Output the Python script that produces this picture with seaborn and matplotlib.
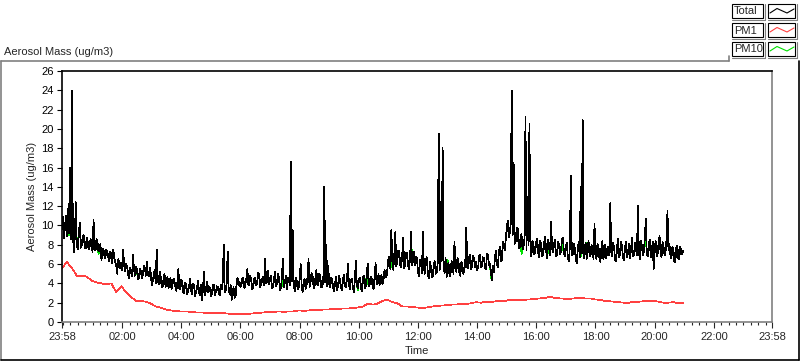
import numpy as np
import matplotlib
matplotlib.use("Agg")
import matplotlib.pyplot as plt
import seaborn as sns
from matplotlib.lines import Line2D
from matplotlib.patches import Rectangle

W, H = 800, 361

# Total aerosol mass, 2 minute readings from 23:58 (one row per hour)
total = [
    9.6, 10.9, 8.7, 9.8, 11.0, 8.9, 11.7, 9.2, 16.0, 8.6, 24.0, 9.4, 7.2, 8.8, 12.4,
    8.1, 7.5, 9.1, 10.3, 7.7, 8.0, 8.9, 9.0, 7.8, 7.6, 8.7, 8.4, 7.5, 7.8, 8.6,
    7.9, 7.2, 10.6, 7.7, 7.4, 8.6, 8.3, 7.3, 7.6, 8.1, 6.4, 7.4, 7.6, 6.8, 6.6,
    7.5, 7.2, 6.7, 6.3, 7.3, 6.9, 6.1, 7.5, 6.6, 6.2, 5.8, 5.0, 6.5, 6.3, 5.6,
    6.1, 5.4, 7.5, 5.9, 5.3, 6.0, 5.8, 5.0, 4.5, 5.6, 5.2, 4.7, 7.0, 5.5, 4.8,
    5.7, 5.4, 4.4, 4.6, 5.5, 5.3, 4.5, 4.9, 5.8, 5.6, 4.8, 6.2, 5.0, 4.7, 5.6,
    5.1, 3.8, 4.2, 4.9, 5.4, 4.0, 7.5, 4.4, 3.9, 5.2, 4.8, 3.7, 3.6, 4.5, 5.0,
    3.6, 4.1, 4.7, 3.5, 4.2, 4.6, 3.4, 3.8, 4.5, 4.3, 3.6, 3.2, 4.1, 5.5, 3.5,
    3.4, 4.4, 4.2, 3.1, 3.0, 4.1, 3.9, 2.9, 3.3, 3.8, 4.5, 3.2, 2.9, 4.0, 3.7,
    2.7, 3.2, 3.6, 4.3, 3.0, 2.8, 3.9, 2.3, 3.5, 5.2, 2.8, 3.3, 4.2, 3.1, 3.7,
    3.5, 2.7, 2.9, 3.9, 3.8, 2.8, 3.1, 3.7, 3.6, 3.0, 2.8, 3.9, 3.4, 4.2, 8.0,
    3.1, 3.3, 4.0, 7.3, 3.4, 2.9, 3.8, 2.3, 3.0, 3.6, 2.5, 2.6, 3.9, 4.6, 3.8,
    4.2, 3.6, 3.8, 4.6, 4.4, 3.5, 4.0, 4.5, 5.5, 3.8, 3.9, 4.8, 4.3, 3.4, 3.7,
    4.5, 4.6, 3.8, 4.1, 5.1, 5.0, 3.6, 3.9, 4.4, 4.7, 3.8, 6.5, 4.0, 4.2, 5.3,
    3.9, 4.5, 4.8, 3.5, 3.6, 4.4, 5.2, 3.7, 4.0, 5.0, 4.6, 3.3, 3.5, 4.7, 6.5,
    3.6, 4.1, 4.8, 3.4, 4.6, 4.4, 3.8, 16.6, 4.2, 9.5, 3.9, 3.2, 4.6, 4.3, 3.4,
    3.6, 4.4, 6.0, 3.8, 3.1, 4.2, 4.5, 3.4, 3.8, 4.7, 6.5, 3.6, 4.0, 5.1, 4.9,
    3.7, 3.5, 4.6, 5.4, 3.8, 3.9, 5.0, 4.6, 3.6, 3.7, 4.4, 14.0, 4.1, 8.0, 3.7,
    5.8, 3.9, 3.6, 4.6, 4.4, 3.5, 3.2, 4.1, 4.7, 3.3, 3.8, 4.8, 4.2, 3.6, 3.3,
    4.4, 4.9, 3.7, 3.6, 4.5, 6.0, 3.8, 3.4, 4.3, 4.5, 3.5, 3.1, 4.4, 6.3, 3.8,
    3.5, 4.3, 4.6, 3.6, 3.2, 4.5, 4.8, 3.5, 3.7, 4.9, 6.0, 3.7, 3.9, 4.7, 4.5,
    3.6, 3.4, 4.8, 6.1, 3.9, 4.2, 5.0, 3.8, 4.6, 4.9, 3.9, 4.3, 5.4, 5.2, 4.6,
    5.6, 6.5, 6.8, 5.5, 9.5, 6.3, 5.4, 7.0, 9.3, 5.8, 6.2, 7.4, 7.3, 5.9, 5.7,
    6.9, 8.7, 5.6, 6.0, 7.2, 7.1, 5.8, 5.5, 6.7, 9.3, 5.9, 6.4, 7.3, 5.9, 6.8,
    6.6, 5.2, 4.8, 6.4, 6.2, 5.1, 9.3, 5.7, 5.0, 6.5, 6.7, 4.9, 4.5, 6.2, 5.8,
    4.6, 4.7, 6.0, 6.3, 5.0, 5.2, 6.1, 19.5, 5.4, 12.5, 6.3, 18.0, 5.6, 5.1, 6.6,
    4.6, 5.8, 6.1, 4.7, 4.9, 6.3, 5.7, 5.0, 8.3, 5.6, 5.2, 6.6, 6.4, 5.1, 4.8,
    6.2, 5.9, 5.0, 5.3, 6.4, 9.8, 5.7, 5.6, 6.8, 7.0, 5.5, 5.8, 6.9, 6.5, 5.7,
    6.2, 5.4, 5.6, 6.8, 7.0, 5.7, 5.8, 6.7, 6.6, 5.6, 5.5, 7.1, 6.9, 5.9, 6.0,
    5.1, 4.3, 5.8, 5.2, 6.6, 7.4, 6.0, 5.7, 7.2, 7.8, 6.3, 6.4, 8.3, 8.0, 7.4,
    8.6, 9.7, 10.5, 8.8, 9.2, 10.1, 24.0, 9.0, 16.5, 8.1, 8.3, 9.6, 9.8, 7.9, 7.6,
    8.8, 9.1, 7.5, 7.8, 8.7, 21.3, 7.4, 13.0, 8.0, 20.5, 7.6, 6.8, 8.4, 8.2, 7.0,
    7.4, 8.3, 8.6, 7.1, 6.7, 8.4, 8.1, 6.8, 7.0, 8.2, 8.8, 7.3, 6.6, 8.5, 7.9,
    6.9, 10.4, 7.6, 7.2, 8.1, 8.5, 6.8, 6.9, 8.3, 8.0, 7.0, 7.3, 8.6, 8.7, 7.2,
    6.8, 7.9, 8.2, 6.6, 6.3, 7.8, 15.1, 6.9, 7.0, 8.1, 7.7, 6.4, 6.1, 7.5, 8.3,
    6.7, 14.0, 7.1, 20.9, 6.6, 7.4, 8.2, 6.5, 7.6, 8.4, 6.8, 6.9, 8.0, 7.6, 6.5,
    10.2, 7.0, 6.5, 8.1, 7.9, 6.6, 6.2, 7.7, 8.4, 6.5, 7.1, 8.0, 6.6, 7.4, 7.8,
    6.9, 12.3, 7.2, 6.8, 8.2, 7.5, 6.4, 6.3, 7.9, 8.6, 6.7, 7.0, 8.3, 7.7, 6.6,
    6.4, 7.8, 8.3, 6.7, 7.2, 8.1, 6.6, 7.5, 8.7, 6.8, 6.9, 8.2, 7.6, 6.9, 12.0,
    7.3, 6.5, 8.4, 8.0, 6.9, 7.3, 8.6, 10.7, 7.0, 6.8, 8.1, 8.5, 6.7, 7.1, 8.3,
    5.5, 7.6, 8.4, 6.8, 7.0, 8.2, 8.9, 7.1, 6.7, 8.3, 7.8, 6.9, 7.2, 8.5, 11.5,
    7.4, 8.1, 6.9, 6.6, 7.8, 7.5, 6.2, 6.3, 7.7, 7.9, 6.6, 6.5, 7.8, 7.3, 7.0,
    7.4,
]

# PM1, 10 minute readings from 23:58 (one row per two hours)
pm1 = [
    5.6, 6.2, 5.6, 4.8, 4.8, 4.7, 4.3, 4.1, 4.0, 3.9, 4.0, 3.1,
    3.7, 3.1, 2.6, 2.2, 2.2, 2.1, 1.9, 1.6, 1.5, 1.3, 1.2, 1.15,
    1.1, 1.1, 1.05, 1.0, 1.0, 0.95, 0.95, 0.9, 0.9, 0.9, 0.85, 0.8,
    0.85, 0.85, 0.85, 0.9, 0.95, 1.0, 1.05, 1.05, 1.1, 1.05, 1.1, 1.1,
    1.2, 1.15, 1.2, 1.25, 1.2, 1.3, 1.3, 1.35, 1.35, 1.4, 1.4, 1.45,
    1.5, 1.6, 1.9, 1.8, 1.9, 2.2, 2.3, 2.05, 1.95, 1.6, 1.6, 1.55,
    1.5, 1.45, 1.5, 1.6, 1.65, 1.7, 1.75, 1.8, 1.8, 1.9, 1.85, 1.95,
    2.05, 2.0, 2.1, 2.05, 2.15, 2.2, 2.2, 2.3, 2.25, 2.3, 2.3, 2.35,
    2.4, 2.45, 2.5, 2.6, 2.5, 2.45, 2.4, 2.4, 2.45, 2.5, 2.45, 2.45,
    2.35, 2.3, 2.2, 2.15, 2.1, 2.05, 2.0, 2.0, 2.1, 2.1, 2.15, 2.15,
    2.2, 2.1, 2.0, 2.0, 2.05, 1.95, 2.0,
]

# PM10 equals Total except for these readings (index: value)
pm10_diff = {7: 9.0, 16: 8.3, 37: 7.0, 75: 5.0, 161: 3.5, 170: 3.0,
             178: 4.4, 198: 4.2, 223: 3.8, 292: 3.4, 300: 3.3, 310: 4.3,
             334: 6.0, 355: 6.2, 391: 6.4, 435: 4.6, 454: 9.2, 466: 7.0,
             493: 7.7, 508: 7.6, 526: 6.8, 532: 7.8, 541: 7.0, 592: 8.9}

x_ticks = [-2 / 60, 2, 4, 6, 8, 10, 12, 14, 16, 18, 20, 22, 24 - 2 / 60]
x_labels = ["23:58", "02:00", "04:00", "06:00", "08:00", "10:00", "12:00",
            "14:00", "16:00", "18:00", "20:00", "22:00", "23:58"]
y_ticks = list(range(0, 27, 2))

t_total = -2 / 60 + np.arange(len(total)) * 2 / 60
t_pm1 = -2 / 60 + np.arange(len(pm1)) * 10 / 60
pm10 = list(total)
for i, v in pm10_diff.items():
    pm10[i] = v

sns.set_style("white")
plt.rcParams['font.family'] = ['Liberation Sans', 'DejaVu Sans']
plt.rcParams['font.size'] = 8

fig = plt.figure(figsize=(W / 100, H / 100), dpi=100)
ax = fig.add_axes([62 / W, 1 - 322 / H, (772 - 62) / W, (322 - 71) / H])

kw = dict(ax=ax, lw=0.5, estimator=None, antialiased=False)
sns.lineplot(x=t_total, y=pm10, color="#00e000", **kw)
sns.lineplot(x=t_pm1, y=pm1, color="#ff4040", **kw)
sns.lineplot(x=t_total, y=total, color="black", **kw)

ax.set_xlim(-2 / 60, 24 - 2 / 60)
ax.set_ylim(0, 26)
ax.set_xticks(x_ticks)
ax.set_xticklabels(x_labels)
ax.set_xticks(np.arange(0, 24, 0.25), minor=True)
ax.set_yticks(y_ticks)

for s in ['top', 'left']:
    ax.spines[s].set_color('black')
    ax.spines[s].set_linewidth(1.2)
for s in ['right', 'bottom']:
    ax.spines[s].set_color('#808080')
    ax.spines[s].set_linewidth(1.2)

ax.tick_params(axis='y', which='major', direction='out', length=3.6, width=0.8,
               pad=2.5, labelsize=8, left=True, colors='black')
ax.tick_params(axis='x', which='major', direction='out', length=4.3, width=0.8,
               pad=3, labelsize=8, bottom=True)
ax.tick_params(axis='x', which='minor', direction='out', length=2.2, width=0.8,
               bottom=True)

ax.set_ylabel("Aerosol Mass (ug/m3)", fontsize=8)
ax.yaxis.set_label_coords((37 - 62) / 710, 0.5)
ax.set_xlabel("Time", fontsize=8)
ax.xaxis.set_label_coords(0.5, (322 - 346) / 251)


def px(x, y):
    return x / W, 1 - y / H


def fline(xs, ys, color, lw=1.0):
    fig.add_artist(Line2D([x / W for x in xs], [1 - y / H for y in ys],
                          color=color, lw=lw, transform=fig.transFigure))


fig.text(*px(4, 55), "Aerosol Mass (ug/m3)", fontsize=8, va='baseline')

# outer frame
fline([0.5, 729], [61, 61], '#808080', 1.2)
fline([729, 729], [61, 56], '#808080', 1.2)
fline([0.5, 0.5], [61, 360], '#808080', 1.2)
fline([799, 799], [61, 360], 'black', 1.2)
fline([0.5, 799], [359.5, 359.5], 'black', 1.2)

# legend
rows = [("Total", "black", 4), ("PM1", "#ff4040", 23), ("PM10", "#00e000", 42)]
for name, col, y0 in rows:
    for x0, x1 in [(732, 763), (768, 795)]:
        fig.add_artist(Rectangle(px(x0, y0 + 14), (x1 - x0) / W, 14 / H,
                                 fill=False, ec='black', lw=0.8,
                                 transform=fig.transFigure))
        fline([x1 + 1.5, x1 + 1.5], [y0, y0 + 15.5], '#808080', 0.8)
        fline([x0, x1 + 1.5], [y0 + 15.5, y0 + 15.5], '#808080', 0.8)
    fig.text(*px(734, y0 + 7.5), name, fontsize=8, va='center')
    fline([770, 777, 787, 794], [y0 + 9, y0 + 4.5, y0 + 9, y0 + 5], col, 0.8)

fig.savefig("out.png", dpi=100)
